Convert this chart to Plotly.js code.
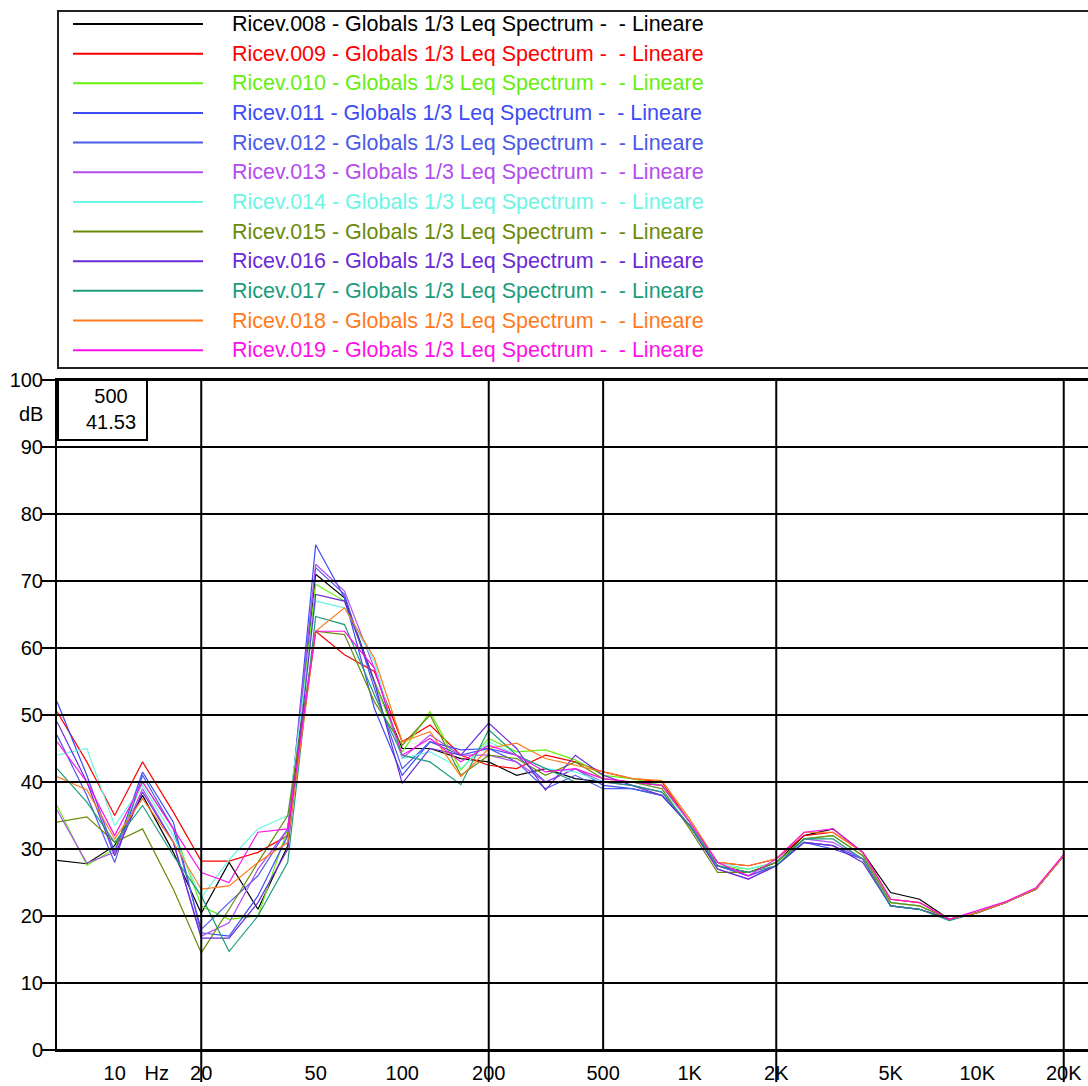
<!DOCTYPE html>
<html>
<head>
<meta charset="utf-8">
<script src="https://cdn.plot.ly/plotly-3.0.1.min.js"></script>
<style>
  html, body { margin: 0; padding: 0; background: #ffffff; }
  #chart { width: 1088px; height: 1086px; }
</style>
</head>
<body>
<div id="chart"></div>
<script>
// 1/3-octave band centre frequencies (Hz)
const freqs = [6.3, 8, 10, 12.5, 16, 20, 25, 31.5, 40, 50, 63, 80, 100, 125, 160, 200, 250, 315, 400, 500,
  630, 800, 1000, 1250, 1600, 2000, 2500, 3150, 4000, 5000, 6300, 8000, 10000, 12500, 16000, 20000];

// Leq spectra (dB), one array per measurement
const ricev008 = [28.3, 27.8, 30.5, 38, 29.5, 20.4, 28, 21, 30.5, 71, 67.5, 55, 45, 45, 43.5, 43, 41, 42, 40.5, 40,
  40, 39.5, 34, 27.5, 26.5, 28, 32, 33, 29.5, 23.5, 22.5, 19.5, 20.5, 22, 24, 29];
const ricev009 = [50.5, 43, 35, 43, 35.5, 28.2, 28.2, 29.5, 32, 62.5, 59, 56.5, 46, 48.5, 44, 42.5, 42, 44, 43, 41.5,
  40.5, 40, 34, 28, 27.5, 28.5, 32, 32.5, 29.5, 22.5, 22, 19.5, 20.5, 22, 24, 29];
const ricev010 = [36.5, 27.6, 30, 40, 33, 21.5, 19.5, 20, 33, 69.5, 67, 55, 44.5, 50.5, 41.8, 46.5, 44.5, 44.8, 43.3, 41,
  40.5, 39.5, 34, 27.5, 27, 28, 31.5, 32, 29, 22, 21.5, 19.5, 20.5, 22, 24, 29];
const ricev011 = [52, 41, 29.5, 41.5, 34, 17.5, 17, 23, 32, 75.4, 67.5, 51, 41, 46, 44.8, 45, 44, 40, 42, 39.5,
  39, 38, 33.5, 27.5, 26, 27.5, 31, 30, 28.5, 21.5, 21, 19.5, 20.5, 22, 24, 29];
const ricev012 = [47, 38, 28, 41, 33, 18, 22, 26, 33, 72, 68, 54, 42, 46, 44, 45, 43, 39, 41, 39,
  39, 38, 33.5, 27.5, 26, 27.5, 31, 30.5, 28.5, 21.5, 21, 19.5, 20.5, 22, 24, 29];
const ricev013 = [35.8, 27.9, 29.5, 39, 31, 17, 19, 27, 33, 72.5, 68.5, 57, 43.5, 47, 44, 44, 43, 40, 42, 40,
  39.5, 38.5, 33.5, 27, 25.5, 27.5, 31.5, 31, 28.5, 21.5, 21, 19.5, 20.5, 22, 24, 29];
const ricev014 = [44, 45, 33.5, 39.5, 32, 22.7, 28.4, 33, 35, 67, 66, 58, 43.5, 44.5, 42, 46, 44, 42, 41.5, 40,
  40, 39, 34, 28, 27, 28, 31.5, 32, 29, 22, 21.5, 19.5, 20.5, 22, 24, 29];
const ricev015 = [34, 34.8, 31, 33, 24, 14.5, 21, 28, 35, 62.5, 62, 52, 45.5, 50, 41, 44, 43.5, 41, 43, 40.5,
  40, 39, 33, 26.5, 26.5, 28, 31.5, 32, 29, 22, 21.5, 19.5, 20.5, 22, 24, 29];
const ricev016 = [49, 40, 29, 38.5, 31, 16.7, 16.7, 22, 30, 68, 67, 55, 39.8, 45, 44, 48.8, 45, 38.8, 44, 41,
  39.5, 38, 33.5, 27, 25.5, 27.5, 31, 30.5, 28, 21.5, 21, 19.5, 20.5, 22, 24, 29];
const ricev017 = [42, 37, 31, 36.5, 29, 23, 14.7, 20, 28, 64.7, 63.5, 53, 44, 43, 39.6, 47.8, 44, 42, 40, 40,
  39.5, 38.5, 33.5, 27.5, 26.5, 27.5, 31.5, 31.5, 28.5, 21.5, 21, 19.3, 20.5, 22, 24, 29];
const ricev018 = [40.8, 38.8, 31.5, 37.5, 31, 24, 24.5, 28, 31, 62.5, 66, 58.5, 46, 47.5, 40.8, 45, 45.8, 43.5, 42.5, 41.5,
  40.5, 40.2, 34.5, 28, 27.5, 28.5, 32.5, 32.5, 29.5, 22.5, 22, 19.5, 20.5, 22, 24, 29];
const ricev019 = [46, 40, 32, 40, 33, 26.5, 25, 32.5, 33, 62.5, 62.5, 57, 44, 46.5, 43, 45.5, 44, 41.5, 42, 40.5,
  40, 39.5, 34, 28, 26, 28.5, 32.5, 33, 29.5, 22.5, 22, 19.5, 20.8, 22.1, 24.2, 29.2];

const seriesValues = [ricev008, ricev009, ricev010, ricev011, ricev012, ricev013,
  ricev014, ricev015, ricev016, ricev017, ricev018, ricev019];
const seriesNames = ['Ricev.008', 'Ricev.009', 'Ricev.010', 'Ricev.011', 'Ricev.012', 'Ricev.013',
  'Ricev.014', 'Ricev.015', 'Ricev.016', 'Ricev.017', 'Ricev.018', 'Ricev.019'];
const nameSuffix = ' - Globals 1/3 Leq Spectrum -\u00a0\u00a0- Lineare';
const seriesColors = ['#000000', '#ff0000', '#66ee11', '#3c4cf5', '#4a5ae8', '#b44cf0',
  '#6cf5e5', '#6b8a0a', '#6a2ad8', '#1c9c7c', '#ff7a1c', '#ff10e8'];

// axis ticks
const xTickVals = [10, 14, 20, 50, 100, 200, 500, 1000, 2000, 5000, 10000, 20000];
const xTickText = ['10', 'Hz', '20', '50', '100', '200', '500', '1K', '2K', '5K', '10K', '20K'];
const xGridFreqs = [20, 200, 2000, 20000];
const yTickVals = [0, 10, 20, 30, 40, 50, 60, 70, 80, 90, 100];

// cursor read-out
const cursorFreq = 500;
const cursorValue = '41.53';

// ---------- layout geometry ----------
const W = 1088, H = 1086;
const M = { l: 57, r: 0, t: 380, b: 36 };
const plotW = W - M.l - M.r, plotH = H - M.t - M.b;
const decadePx = 287.5;
const xMin = Math.log10(6.3);
const xMax = xMin + plotW / decadePx;
const px2paperX = p => (p - M.l) / plotW;
const px2paperY = p => (H - M.b - p) / plotH;

const FONT = 'Liberation Sans, Arial, Helvetica, sans-serif';

const traces = seriesValues.map((vals, i) => ({
  type: 'scatter',
  mode: 'lines',
  x: freqs,
  y: vals,
  name: seriesNames[i] + nameSuffix,
  line: { color: seriesColors[i], width: 1.2 },
  showlegend: false,
  hoverinfo: 'skip'
}));

const shapes = [];
const annotations = [];

// horizontal grid lines (drawn above traces like the original)
yTickVals.forEach(v => shapes.push({
  type: 'line', xref: 'paper', yref: 'y', x0: 0, x1: 1, y0: v, y1: v,
  line: { color: '#000', width: 2 }, layer: 'above'
}));
// vertical grid lines, extending down through the tick labels
xGridFreqs.forEach(f => shapes.push({
  type: 'line', xref: 'x', yref: 'paper', x0: f, x1: f, y0: px2paperY(1082), y1: 1,
  line: { color: '#000', width: 2 }, layer: 'above'
}));
// cursor line
shapes.push({
  type: 'line', xref: 'x', yref: 'paper', x0: cursorFreq, x1: cursorFreq, y0: 0, y1: 1,
  line: { color: '#000', width: 2 }, layer: 'above'
});
// cursor read-out box
shapes.push({
  type: 'rect', xref: 'paper', yref: 'paper',
  x0: px2paperX(58), x1: px2paperX(147), y0: px2paperY(440), y1: 1,
  fillcolor: '#ffffff', line: { color: '#000', width: 2 }, layer: 'above'
});
annotations.push({
  xref: 'paper', yref: 'paper', x: px2paperX(111), y: px2paperY(409),
  xanchor: 'center', yanchor: 'middle', showarrow: false, align: 'center',
  text: String(cursorFreq) + '<br>' + cursorValue,
  font: { family: FONT, size: 20, color: '#000' }
});
// dB unit label
annotations.push({
  xref: 'paper', yref: 'paper', x: px2paperX(45), y: px2paperY(414),
  xanchor: 'right', yanchor: 'middle', showarrow: false,
  text: 'dB', font: { family: FONT, size: 20, color: '#000' }
});

// legend box (custom, long line samples)
shapes.push({
  type: 'rect', xref: 'paper', yref: 'paper',
  x0: px2paperX(58), x1: px2paperX(1100), y0: px2paperY(368), y1: px2paperY(11),
  fillcolor: 'rgba(0,0,0,0)', line: { color: '#222', width: 2 }
});
seriesNames.forEach((n, i) => {
  const yPx = 24 + i * 29.65;
  shapes.push({
    type: 'line', xref: 'paper', yref: 'paper',
    x0: px2paperX(73), x1: px2paperX(203), y0: px2paperY(yPx), y1: px2paperY(yPx),
    line: { color: seriesColors[i], width: 2 }
  });
  annotations.push({
    xref: 'paper', yref: 'paper', x: px2paperX(230), y: px2paperY(yPx),
    xanchor: 'left', yanchor: 'middle', showarrow: false,
    text: n + nameSuffix,
    font: { family: FONT, size: 21.5, color: seriesColors[i] }
  });
});

const layout = {
  width: W, height: H,
  margin: M,
  paper_bgcolor: '#ffffff',
  plot_bgcolor: '#ffffff',
  showlegend: false,
  font: { family: FONT, size: 20, color: '#000' },
  xaxis: {
    type: 'log',
    range: [xMin, xMax],
    tickmode: 'array',
    tickvals: xTickVals,
    ticktext: xTickText,
    showgrid: false,
    zeroline: false,
    ticks: '',
    showline: true, linecolor: '#000', linewidth: 2, mirror: true,
    tickfont: { family: FONT, size: 20, color: '#000' },
    ticklabelstandoff: 4
  },
  yaxis: {
    range: [0, 100],
    tickmode: 'array',
    tickvals: yTickVals,
    showgrid: false,
    zeroline: false,
    ticks: 'outside', ticklen: 13, tickwidth: 2, tickcolor: '#000',
    showline: true, linecolor: '#000', linewidth: 2,
    tickfont: { family: FONT, size: 20, color: '#000' },
    ticklabelstandoff: -5
  },
  shapes: shapes,
  annotations: annotations
};

Plotly.newPlot('chart', traces, layout, { staticPlot: true, displayModeBar: false });
</script>
</body>
</html>
